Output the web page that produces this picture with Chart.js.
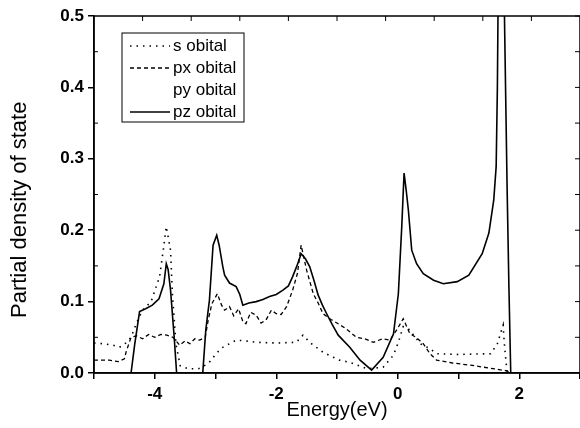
<!DOCTYPE html>
<html>
<head>
<meta charset="utf-8">
<script src="https://cdn.jsdelivr.net/npm/chart.js@4.4.0/dist/chart.umd.min.js"></script>
<style>
  html, body { margin: 0; padding: 0; background: #fff; }
  #wrap { width: 580px; height: 428px; position: relative; }
</style>
</head>
<body>
<div id="wrap"><canvas id="dos-chart"></canvas></div>
<script>
// PDOS (energy in eV, density)
const sEnergy = [-5, -4.85, -4.69, -4.58, -4.5, -4.39, -4.3, -4.2, -4.06, -3.92, -3.86, -3.81, -3.74, -3.71, -3.65, -3.58, -3.45, -3.28, -3.12, -2.98, -2.88, -2.66, -2.5, -2.33, -2.0, -1.67, -1.56, -1.45, -1.23, -1.06, -0.96, -0.79, -0.51, -0.24, -0.07, 0.01, 0.09, 0.175, 0.29, 0.37, 0.53, 0.64, 1.0, 1.53, 1.64, 1.69, 1.735, 1.75, 1.77, 1.8, 3];
const sDos = [0.042, 0.041, 0.039, 0.036, 0.04, 0.05, 0.07, 0.088, 0.1, 0.135, 0.172, 0.205, 0.172, 0.111, 0.04, 0.01, 0.006, 0.006, 0.013, 0.028, 0.036, 0.046, 0.045, 0.043, 0.042, 0.043, 0.053, 0.043, 0.029, 0.022, 0.018, 0.015, 0.006, 0.008, 0.025, 0.043, 0.065, 0.062, 0.05, 0.041, 0.034, 0.027, 0.026, 0.027, 0.041, 0.055, 0.067, 0.046, 0.027, 0, 0];

const pxEnergy = [-5, -4.75, -4.6, -4.5, -4.47, -4.39, -4.3, -4.2, -4.1, -4.0, -3.9, -3.8, -3.7, -3.59, -3.5, -3.42, -3.34, -3.26, -3.17, -3.12, -3.06, -2.97, -2.9, -2.85, -2.77, -2.7, -2.62, -2.55, -2.5, -2.42, -2.33, -2.25, -2.17, -2.08, -2.0, -1.92, -1.83, -1.73, -1.65, -1.59, -1.5, -1.39, -1.31, -1.23, -1.1, -0.98, -0.85, -0.68, -0.55, -0.4, -0.25, -0.13, -0.02, 0.09, 0.2, 0.3, 0.42, 0.53, 0.64, 0.9, 1.195, 1.5, 1.8, 1.86, 3];
const pxDos = [0.018, 0.018, 0.016, 0.02, 0.03, 0.05, 0.052, 0.048, 0.054, 0.05, 0.054, 0.053, 0.05, 0.039, 0.045, 0.041, 0.048, 0.046, 0.05, 0.074, 0.097, 0.111, 0.095, 0.088, 0.093, 0.08, 0.09, 0.072, 0.069, 0.085, 0.081, 0.07, 0.074, 0.088, 0.083, 0.082, 0.093, 0.116, 0.14, 0.179, 0.144, 0.111, 0.098, 0.083, 0.075, 0.069, 0.062, 0.05, 0.048, 0.043, 0.048, 0.046, 0.06, 0.076, 0.055, 0.05, 0.041, 0.027, 0.018, 0.014, 0.011, 0.007, 0.003, 0, 0];

// py lies under px in the picture and its line is not visible
const pyEnergy = pxEnergy;
const pyDos = pxDos;

const pzEnergy = [-5, -4.39, -4.33, -4.25, -4.15, -4.04, -3.93, -3.85, -3.81, -3.78, -3.74, -3.68, -3.64, -3.21, -3.16, -3.1, -3.04, -2.98, -2.94, -2.88, -2.85, -2.77, -2.66, -2.6, -2.55, -2.45, -2.33, -2.22, -2.11, -2.0, -1.89, -1.8, -1.73, -1.66, -1.59, -1.52, -1.45, -1.38, -1.31, -1.24, -1.17, -1.08, -0.98, -0.79, -0.62, -0.43, -0.24, -0.07, 0.01, 0.066, 0.104, 0.14, 0.175, 0.23, 0.31, 0.42, 0.59, 0.75, 0.98, 1.17, 1.39, 1.5, 1.58, 1.62, 1.64, 1.66, 1.7, 1.74, 1.76, 1.8, 1.83, 1.86, 3];
const pzDos = [0, 0, 0.04, 0.086, 0.09, 0.095, 0.104, 0.125, 0.153, 0.145, 0.116, 0.05, 0, 0, 0.06, 0.102, 0.179, 0.193, 0.179, 0.149, 0.137, 0.126, 0.121, 0.11, 0.095, 0.098, 0.1, 0.103, 0.107, 0.11, 0.116, 0.122, 0.135, 0.15, 0.167, 0.16, 0.149, 0.13, 0.109, 0.095, 0.083, 0.068, 0.053, 0.036, 0.018, 0.004, 0.022, 0.055, 0.111, 0.205, 0.28, 0.255, 0.228, 0.172, 0.153, 0.139, 0.13, 0.125, 0.128, 0.137, 0.167, 0.196, 0.242, 0.289, 0.4, 0.6, 0.8, 0.6, 0.48, 0.26, 0.12, 0, 0];

const xMin = -5, xMax = 3;
const yMin = 0, yMax = 0.5;
const labelFont = 'Liberation Sans, Arial, sans-serif';

function toPoints(xs, ys) {
    return xs.map((x, i) => ({ x: x, y: ys[i] }));
}

// frame, inward minor ticks on left/right/top
const framePlugin = {
    id: 'frame',
    afterDraw(chart) {
        const ctx = chart.ctx;
        const a = chart.chartArea;
        const ys = chart.scales.y;
        ctx.save();
        ctx.strokeStyle = '#000';
        ctx.lineWidth = 1.5;
        ctx.strokeRect(a.left, a.top, a.right - a.left, a.bottom - a.top);
        ctx.lineWidth = 1;
        ctx.beginPath();
        for (let k = 1; k < 10; k++) {
            const px = a.left + (a.right - a.left) * k / 10;
            ctx.moveTo(px, a.top);
            ctx.lineTo(px, a.top + 5);
        }
        for (let v = 0.05; v < yMax; v += 0.05) {
            const py = ys.getPixelForValue(v);
            ctx.moveTo(a.right, py);
            ctx.lineTo(a.right - 5, py);
        }
        for (let v = 0.05; v < yMax; v += 0.1) {
            const py = ys.getPixelForValue(v);
            ctx.moveTo(a.left, py);
            ctx.lineTo(a.left + 4, py);
        }
        ctx.stroke();
        ctx.restore();
    }
};

// boxed legend inside the plot, upper left
const boxLegend = {
    id: 'boxLegend',
    afterDraw(chart) {
        const ctx = chart.ctx;
        const box = { x: 122, y: 33, w: 122, h: 89 };
        ctx.save();
        ctx.strokeStyle = '#000';
        ctx.lineWidth = 1;
        ctx.fillStyle = '#fff';
        ctx.fillRect(box.x, box.y, box.w, box.h);
        ctx.strokeRect(box.x, box.y, box.w, box.h);
        ctx.font = '17px ' + labelFont;
        ctx.textBaseline = 'middle';
        chart.data.datasets.forEach((ds, i) => {
            const yy = box.y + 13 + i * 22;
            ctx.strokeStyle = ds.borderColor;
            ctx.lineWidth = ds.borderWidth;
            ctx.setLineDash(ds.borderDash || []);
            ctx.beginPath();
            ctx.moveTo(box.x + 8, yy);
            ctx.lineTo(box.x + 48, yy);
            ctx.stroke();
            ctx.setLineDash([]);
            ctx.fillStyle = '#000';
            ctx.fillText(ds.label, box.x + 51, yy);
        });
        ctx.restore();
    }
};

const ctx = document.getElementById('dos-chart').getContext('2d');
new Chart(ctx, {
    type: 'line',
    data: {
        datasets: [
            {
                label: 's obital',
                data: toPoints(sEnergy, sDos),
                borderColor: '#000',
                borderWidth: 1.6,
                borderDash: [1.5, 5],
                pointRadius: 0,
                fill: false,
                tension: 0
            },
            {
                label: 'px obital',
                data: toPoints(pxEnergy, pxDos),
                borderColor: '#000',
                borderWidth: 1.3,
                borderDash: [4, 3],
                pointRadius: 0,
                fill: false,
                tension: 0
            },
            {
                label: 'py obital',
                data: toPoints(pyEnergy, pyDos),
                borderColor: 'rgba(0, 0, 0, 0)',
                borderWidth: 1,
                pointRadius: 0,
                fill: false,
                tension: 0
            },
            {
                label: 'pz obital',
                data: toPoints(pzEnergy, pzDos),
                borderColor: '#000',
                borderWidth: 1.6,
                pointRadius: 0,
                fill: false,
                tension: 0
            }
        ]
    },
    options: {
        responsive: true,
        maintainAspectRatio: false,
        animation: false,
        layout: { padding: { top: 16, right: 0, left: 0, bottom: 0 } },
        scales: {
            x: {
                type: 'linear',
                min: xMin,
                max: xMax,
                afterFit: function(scale) {
                    scale.height = 55;
                    scale.paddingLeft = 0;
                    scale.paddingRight = 0;
                },
                ticks: {
                    stepSize: 1,
                    color: '#000',
                    font: { family: labelFont, size: 17, weight: 'bold' },
                    padding: 5,
                    maxRotation: 0,
                    callback: function(v) { return v % 2 === 0 ? String(v) : ''; }
                },
                grid: { drawOnChartArea: false, drawTicks: true, tickLength: 6, color: '#000', lineWidth: 1.5 },
                border: { display: true, color: '#000', width: 1.5 },
                title: {
                    display: true,
                    text: 'Energy(eV)',
                    color: '#000',
                    font: { family: labelFont, size: 20 },
                    padding: { top: 0, bottom: 6 }
                }
            },
            y: {
                min: yMin,
                max: yMax,
                afterFit: function(scale) { scale.width = 94; },
                ticks: {
                    stepSize: 0.1,
                    color: '#000',
                    font: { family: labelFont, size: 17, weight: 'bold' },
                    padding: 4,
                    callback: function(v) { return v.toFixed(1); }
                },
                grid: { drawOnChartArea: false, drawTicks: true, tickLength: 6, color: '#000', lineWidth: 1.5 },
                border: { display: true, color: '#000', width: 1.5 },
                title: {
                    display: true,
                    text: 'Partial density of state     ',
                    color: '#000',
                    font: { family: labelFont, size: 22 },
                    padding: { top: 7, bottom: 0 }
                }
            }
        },
        plugins: {
            legend: { display: false },
            tooltip: { enabled: false }
        }
    },
    plugins: [framePlugin, boxLegend]
});
</script>
</body>
</html>
